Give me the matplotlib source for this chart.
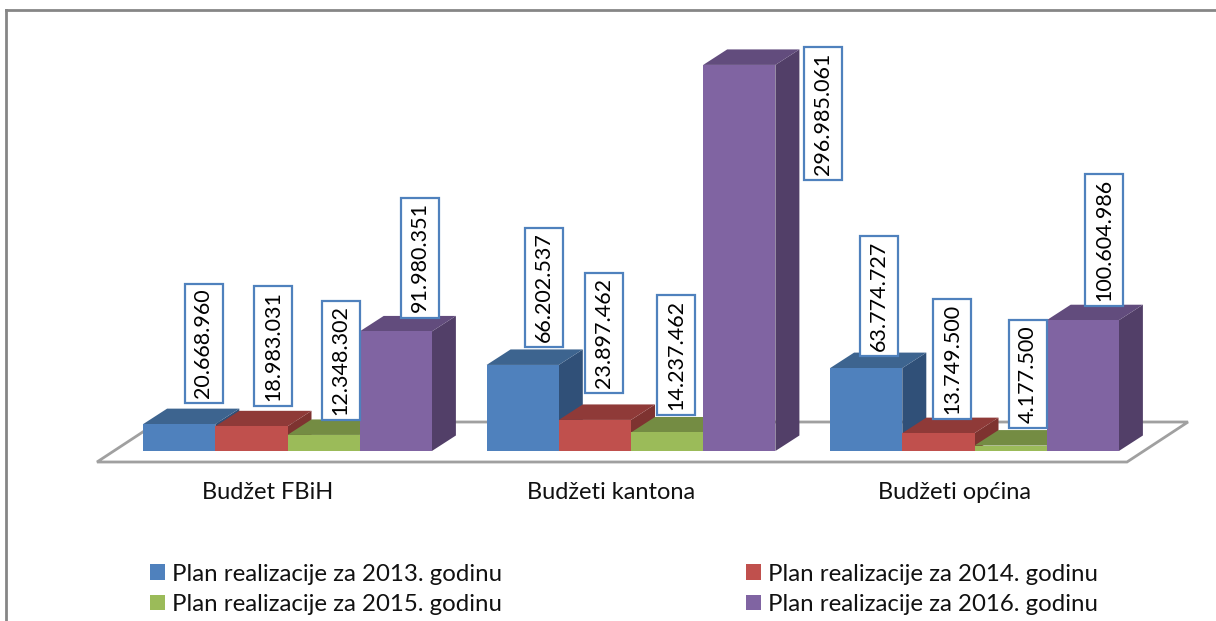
import matplotlib
matplotlib.use("Agg")
import matplotlib.pyplot as plt
from matplotlib.patches import Patch, Polygon
from matplotlib.lines import Line2D
from matplotlib.path import Path

plt.rcParams['font.family'] = ['Lato', 'DejaVu Sans']

#data
categories = ['Budžet FBiH', 'Budžeti kantona', 'Budžeti općina']
series = ['Plan realizacije za 2013. godinu', 'Plan realizacije za 2014. godinu',
          'Plan realizacije za 2015. godinu', 'Plan realizacije za 2016. godinu']
plan_2013 = [20668960, 66202537, 63774727]
plan_2014 = [18983031, 23897462, 13749500]
plan_2015 = [12348302, 14237462, 4177500]
plan_2016 = [91980351, 296985061, 100604986]

#colours: front, top, side
front = ['#4F81BD', '#C0504D', '#9BBB59', '#8064A2']
top = ['#3D648F', '#8F3A38', '#748C43', '#624C7D']
side = ['#305078', '#7E3330', '#65793A', '#523F68']

#label box centres in pixels, the labels were moved by hand in the original
label_cx = [[203.5, 273, 340.5, 420], [544, 604, 676, 823], [879, 952, 1028, 1104]]
label_cy = [[343.5, 346, 360.5, 257.5], [287.5, 332.5, 354.5, 113.5], [296, 359, 374, 240]]

W, H = 1216, 621
base_px = 451
group_px = 343.5
bar_px = 72.2
centre0_px = 287.5
px_per_val = 1.3e-6
depth_x, depth_y = 24, 15.5

fig = plt.figure(figsize=(W/100, H/100), dpi=100)
ax = fig.add_axes([0, (H-base_px)/H, 1, (base_px-10)/H])
ax.set_xlim(-centre0_px/group_px, (W-centre0_px)/group_px)
ax.set_ylim(0, (base_px-10)/px_per_val)
ax.patch.set_visible(False)
for s in ax.spines.values():
    s.set_visible(False)

dx = depth_x/group_px
dy = depth_y/px_per_val
bw = bar_px/group_px

def px(x, y):
    return (x-centre0_px)/group_px, (base_px-y)/px_per_val

#box around a rotated label, wider across the text than along it
def label_box(x0, y0, width, height, mutation_size):
    pad_along, pad_across = 5, 9
    x1, y1 = x0+width+pad_along, y0+height+pad_across
    x0, y0 = x0-pad_along, y0-pad_across
    return Path([(x0, y0), (x1, y0), (x1, y1), (x0, y1), (x0, y0)], closed=True)

#floor
floor = Polygon([px(97, 462), px(1127, 462), px(1188, 422), px(158, 422)], closed=True,
                facecolor='white', edgecolor='#A0A0A0', linewidth=2, clip_on=False, zorder=1)
ax.add_patch(floor)

values = [plan_2013, plan_2014, plan_2015, plan_2016]
z = 2
for g in range(len(categories)):
    for i in range(4):
        v = values[i][g]
        x0 = g + (i-2)*bw
        ax.add_patch(Polygon([(x0+bw, 0), (x0+bw+dx, dy), (x0+bw+dx, v+dy), (x0+bw, v)],
                             facecolor=side[i], edgecolor='none', zorder=z))
        ax.add_patch(Polygon([(x0, v), (x0+dx, v+dy), (x0+bw+dx, v+dy), (x0+bw, v)],
                             facecolor=top[i], edgecolor='none', zorder=z))
        ax.bar(x0, v, bw, align='edge', color=front[i], zorder=z)
        z += 1

for g in range(len(categories)):
    for i in range(4):
        txt = f"{values[i][g]:,}".replace(",", ".")
        ax.text(*px(label_cx[g][i], label_cy[g][i]), txt, rotation=90, ha='center', va='center',
                fontsize=15.5, color='black', zorder=20,
                bbox=dict(boxstyle=label_box, facecolor='white', edgecolor='#4F81BD', linewidth=1.6))

#category labels sit left of the bar groups
ax.set_xticks([g - 19.5/group_px for g in range(3)])
ax.set_xticklabels(categories, fontsize=17, color='#111111')
ax.tick_params(axis='x', length=0, pad=22)
ax.set_yticks([])

#legend fills by column
handles = [Patch(facecolor=front[i], label=series[i]) for i in [0, 2, 1, 3]]
fig.legend(handles=handles, ncol=2, loc='upper left', bbox_to_anchor=(128/W, 1-542/H), frameon=False,
           fontsize=17.3, handlelength=0.62, handleheight=0.62, handletextpad=0.3,
           columnspacing=10.15, labelspacing=0.38, labelcolor='#111111')

#chart frame
fig.add_artist(Line2D([6/W, 6/W], [0, 1-10/H], color='#868686', linewidth=2))
fig.add_artist(Line2D([6/W, 1], [1-10/H, 1-10/H], color='#868686', linewidth=2))

fig.savefig('out.png', dpi=100)
